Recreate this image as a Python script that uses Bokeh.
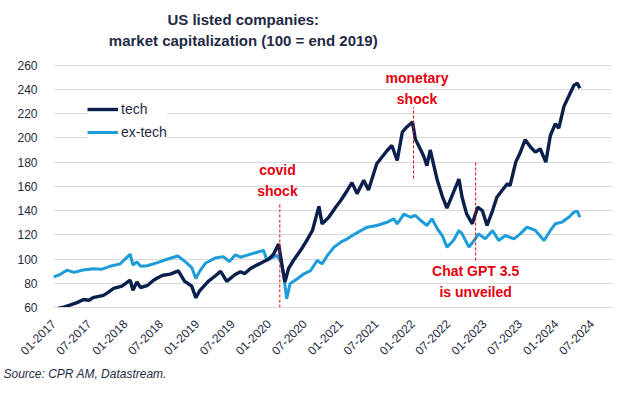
import math
import pandas as pd
from bokeh.plotting import figure
from bokeh.models import Range1d, FixedTicker, DatetimeTickFormatter, Label, Title
from bokeh.embed import file_html
from bokeh.resources import INLINE

# ---------------- data ----------------
tech_dates = ["2017-01-01", "2017-02-15", "2017-03-25", "2017-05-01", "2017-06-03", "2017-07-01",
              "2017-07-21", "2017-09-12", "2017-10-06", "2017-11-03", "2017-12-15", "2018-01-26",
              "2018-02-09", "2018-03-01", "2018-03-20", "2018-04-22", "2018-05-25", "2018-06-15",
              "2018-07-12", "2018-08-18", "2018-09-28", "2018-10-30", "2018-11-15", "2018-12-05",
              "2018-12-26", "2019-01-15", "2019-02-27", "2019-04-03", "2019-05-01", "2019-06-01",
              "2019-07-12", "2019-08-10", "2019-09-01", "2019-09-28", "2019-11-01", "2019-11-20",
              "2020-01-01", "2020-01-25", "2020-02-20", "2020-03-10", "2020-03-23", "2020-04-10",
              "2020-05-06", "2020-06-10", "2020-07-12", "2020-08-10", "2020-09-12", "2020-09-28",
              "2020-11-01", "2020-12-06", "2021-01-01", "2021-02-03", "2021-02-27", "2021-03-25",
              "2021-04-28", "2021-05-22", "2021-07-03", "2021-08-25", "2021-09-18", "2021-10-15",
              "2021-11-10", "2021-12-03", "2022-01-01", "2022-01-15", "2022-02-12", "2022-03-01",
              "2022-03-15", "2022-04-01", "2022-05-07", "2022-06-01", "2022-06-25", "2022-07-28",
              "2022-08-25", "2022-09-10", "2022-10-03", "2022-11-01", "2022-11-28", "2022-12-22",
              "2023-01-15", "2023-02-12", "2023-03-06", "2023-04-01", "2023-04-28", "2023-05-12",
              "2023-06-10", "2023-07-03", "2023-07-28", "2023-08-25", "2023-09-18", "2023-10-12",
              "2023-11-10", "2023-12-03", "2023-12-28", "2024-01-15", "2024-02-10", "2024-03-06",
              "2024-04-01", "2024-04-18", "2024-05-01"]
tech_values = [58.5, 60.0, 62.0, 64.0, 66.6, 66.0,
               68.2, 70.0, 72.5, 75.7, 77.6, 82.5,
               74.3, 81.0, 76.5, 78.0, 82.5, 84.5,
               86.6, 87.5, 90.2, 81.6, 80.0, 77.6,
               68.0, 74.0, 81.6, 86.0, 89.8, 81.6,
               87.0, 89.5, 88.0, 92.0, 95.0, 96.5,
               100.0, 104.0, 112.5, 93.0, 81.0, 92.0,
               99.0, 107.0, 115.3, 123.6, 143.5, 129.0,
               134.5, 142.8, 148.3, 156.6, 163.0, 154.0,
               165.0, 157.0, 178.6, 189.6, 193.7, 181.3,
               204.7, 209.0, 213.0, 199.0, 190.0, 184.0,
               177.0, 190.0, 165.0, 152.0, 142.0, 155.0,
               166.0, 151.0, 137.3, 129.1, 142.8, 140.0,
               127.7, 140.0, 151.0, 156.6, 162.0, 160.7,
               180.0, 188.0, 198.5, 192.3, 188.2, 191.0,
               180.0, 202.0, 211.6, 208.0, 226.0, 234.5,
               243.5, 245.0, 241.0]

extech_dates = ["2017-01-01", "2017-02-01", "2017-03-10", "2017-04-15", "2017-06-01", "2017-07-21",
                "2017-09-01", "2017-10-15", "2017-12-06", "2018-01-26", "2018-02-09", "2018-03-01",
                "2018-03-20", "2018-04-22", "2018-06-10", "2018-08-01", "2018-09-25", "2018-11-08",
                "2018-12-05", "2018-12-26", "2019-01-15", "2019-02-12", "2019-04-03", "2019-05-15",
                "2019-06-15", "2019-07-15", "2019-08-10", "2019-09-22", "2019-11-10", "2019-12-06",
                "2019-12-22", "2020-01-15", "2020-02-15", "2020-03-06", "2020-03-18", "2020-04-01",
                "2020-04-18", "2020-05-25", "2020-06-28", "2020-08-01", "2020-09-03", "2020-09-28",
                "2020-10-25", "2020-11-28", "2021-01-01", "2021-02-03", "2021-03-15", "2021-05-15",
                "2021-07-03", "2021-08-25", "2021-09-28", "2021-10-15", "2021-11-18", "2021-12-22",
                "2022-01-15", "2022-02-12", "2022-03-15", "2022-04-10", "2022-05-07", "2022-06-01",
                "2022-06-25", "2022-07-28", "2022-08-25", "2022-09-10", "2022-10-15", "2022-11-10",
                "2022-12-03", "2023-01-06", "2023-02-12", "2023-03-15", "2023-04-18", "2023-06-01",
                "2023-07-03", "2023-08-06", "2023-09-18", "2023-11-01", "2023-12-03", "2023-12-28",
                "2024-02-01", "2024-03-06", "2024-04-01", "2024-04-18", "2024-05-01"]
extech_values = [85.3, 87.0, 90.8, 89.0, 91.0, 92.0,
                 91.5, 94.0, 96.0, 104.0, 95.0, 97.6,
                 94.0, 94.5, 96.8, 99.8, 102.5, 97.0,
                 93.0, 84.0, 90.0, 96.5, 100.8, 102.0,
                 98.0, 103.5, 101.5, 103.6, 106.0, 107.0,
                 99.0, 101.0, 103.0, 96.0, 85.0, 67.2,
                 79.6, 83.7, 87.8, 90.5, 98.8, 96.0,
                 102.9, 109.8, 113.9, 116.7, 120.8, 126.3,
                 127.7, 130.4, 133.2, 129.0, 137.0, 134.5,
                 136.0, 131.8, 127.7, 133.2, 125.0, 119.4,
                 109.8, 115.3, 123.6, 120.8, 109.8, 115.3,
                 120.8, 116.7, 123.6, 115.3, 119.4, 116.7,
                 120.8, 126.3, 123.6, 115.3, 123.6, 129.1,
                 130.5, 134.5, 138.7, 139.5, 134.5]

y_ticks = [60, 80, 100, 120, 140, 160, 180, 200, 220, 240, 260]
x_tick_dates = ["2017-01-01", "2017-07-01", "2018-01-01", "2018-07-01", "2019-01-01",
                "2019-07-01", "2020-01-01", "2020-07-01", "2021-01-01", "2021-07-01",
                "2022-01-01", "2022-07-01", "2023-01-01", "2023-07-01", "2024-01-01",
                "2024-07-01"]

event_dates = ["2020-02-26", "2022-01-06", "2022-11-18"]
event_top = [145.8, 225.3, 181.3]
event_bottom = [60.0, 166.5, 98.8]

# ---------------- styling ----------------
NAVY = "#0b1f4d"
LIGHT = "#1c9cd8"
RED = "#e3000f"
TXT = "#1f2a44"
GRID = "#d9d9d9"


def ms(d):
    return pd.Timestamp(d).value / 1e6


p = figure(width=616, height=392, x_axis_type="datetime",
           x_range=Range1d(ms("2017-01-01"), ms("2024-10-14")),
           y_range=Range1d(60, 313.4),
           output_backend="svg", toolbar_location=None,
           min_border_left=53, min_border_right=4, min_border_top=0, min_border_bottom=85)
p.outline_line_color = None
p.background_fill_color = "white"
p.xgrid.visible = False
p.ygrid.grid_line_color = GRID
p.ygrid.grid_line_width = 1

p.yaxis.ticker = FixedTicker(ticks=y_ticks)
p.yaxis.axis_line_color = None
p.yaxis.major_tick_line_color = None
p.yaxis.minor_tick_line_color = None
p.yaxis.major_label_text_font = "Liberation Sans"
p.yaxis.major_label_text_font_size = "12px"
p.yaxis.major_label_text_color = TXT
p.yaxis.major_label_standoff = 10

p.xaxis.ticker = FixedTicker(ticks=[ms(d) for d in x_tick_dates])
fmt = "%m-%Y"
p.xaxis.formatter = DatetimeTickFormatter(milliseconds=fmt, seconds=fmt, minsec=fmt, minutes=fmt,
                                          hourmin=fmt, hours=fmt, days=fmt, months=fmt, years=fmt)
p.xaxis.axis_line_color = GRID
p.xaxis.major_tick_line_color = None
p.xaxis.minor_tick_line_color = None
p.xaxis.major_label_orientation = math.pi / 4
p.xaxis.major_label_text_font = "Liberation Sans"
p.xaxis.major_label_text_font_size = "12px"
p.xaxis.major_label_text_color = TXT
p.xaxis.major_label_standoff = 8

p.line(pd.to_datetime(extech_dates), extech_values, line_color=LIGHT, line_width=3,
       legend_label="ex-tech")
p.line(pd.to_datetime(tech_dates), tech_values, line_color=NAVY, line_width=3.4,
       legend_label="tech")

p.segment(x0=pd.to_datetime(event_dates), y0=event_bottom, x1=pd.to_datetime(event_dates),
          y1=event_top, line_color=RED, line_width=1, line_dash="3 2")

# legend order: tech first
leg = p.legend[0]
leg.items = list(reversed(leg.items))
leg.location = (34, 165)
leg.border_line_color = None
leg.background_fill_color = "white"
leg.background_fill_alpha = 1
leg.glyph_width = 31
leg.glyph_height = 20
leg.label_height = 20
leg.spacing = 3
leg.padding = 5
leg.margin = 0
leg.label_standoff = 3
leg.label_text_font = "Liberation Sans"
leg.label_text_font_size = "14px"
leg.label_text_color = TXT

# titles
for txt, yv in [("US listed companies:", 297.7), ("market capitalization (100 = end 2019)", 280.4)]:
    p.add_layout(Label(x=ms("2019-08-24"), y=yv, text=txt, text_align="center",
                       text_baseline="middle", text_font="Liberation Sans",
                       text_font_style="bold", text_font_size="15px", text_color=TXT))

# annotations
annots = [("covid", "2020-02-14", 173.1), ("shock", "2020-02-14", 155.8),
          ("monetary", "2022-01-24", 249.6), ("shock", "2022-01-24", 232.3),
          ("Chat GPT 3.5", "2022-11-18", 90.5), ("is unveiled", "2022-11-18", 72.6)]
for txt, d, yv in annots:
    p.add_layout(Label(x=ms(d), y=yv, text=txt, text_align="center", text_baseline="middle",
                       text_font="Liberation Sans", text_font_style="bold",
                       text_font_size="14px", text_color=RED))

p.add_layout(Title(text="Source: CPR AM, Datastream.", align="left", offset=-50,
                   text_font="Liberation Sans", text_font_style="italic",
                   text_font_size="12px", text_color=TXT, standoff=4), "below")

open("out.html", "w").write(file_html(p, INLINE))
